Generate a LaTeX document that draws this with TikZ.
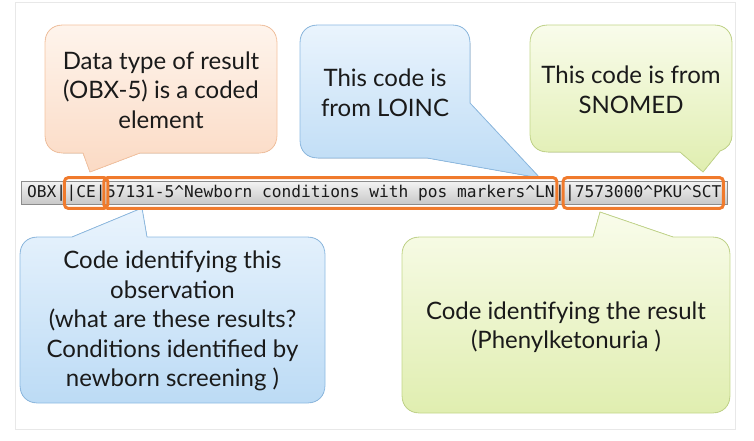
\documentclass[tikz,border=0pt]{standalone}
\usepackage{fontspec}
\newfontfamily\balloonfont{Lato}
\newfontfamily\codefont{DejaVu Sans Mono}
\usepackage{tikz}
\usetikzlibrary{positioning,fit,backgrounds}
\definecolor{ink}{HTML}{1A1A1A}
\definecolor{peachtop}{HTML}{FEF4EC}
\definecolor{peachbot}{HTML}{FBDAC4}
\definecolor{peachline}{HTML}{F5C3A0}
\definecolor{bluetop}{HTML}{EAF4FD}
\definecolor{bluebot}{HTML}{BCDBF5}
\definecolor{blueline}{HTML}{8DBAE2}
\definecolor{greentop}{HTML}{F9FCEB}
\definecolor{greenbot}{HTML}{E0EEB0}
\definecolor{greenline}{HTML}{C3D68A}
\definecolor{barline}{HTML}{8C8C8C}
\definecolor{hilite}{HTML}{F07A2C}

\begin{document}
\begin{tikzpicture}[x=1pt, y=-1pt,
    note/.style={align=center, inner sep=0pt, text=ink,
        font=\balloonfont\fontsize{24}{29.5}\selectfont},
    code/.style={inner sep=0pt, text height=12pt, text depth=3.5pt, text=ink,
        font=\codefont\fontsize{16.2}{18}\selectfont},
    balloon/.style 2 args={draw=#2, line width=0.8pt, line join=round,
        path picture={\fill[#1] (path picture bounding box.south west) rectangle (path picture bounding box.north east);}},
    peach/.style={balloon={top color=peachtop, bottom color=peachbot}{peachline}},
    sky/.style={balloon={top color=bluetop, bottom color=bluebot}{blueline}},
    lime/.style={balloon={top color=greentop, bottom color=greenbot}{greenline}},
    codebar/.style={top color=white!95!black, bottom color=white!78!black, draw=barline, line width=0.8pt,
        inner xsep=6pt, inner ysep=3.5pt},
    hibox/.style={draw=hilite, line width=3pt, rounded corners=4pt, inner xsep=2pt, inner ysep=7.5pt}]

    \useasboundingbox (0,0) rectangle (754,441);
    \draw[black!9] (15,2) rectangle (735,429);

    \node[code, anchor=west] (obx) at (27,193) {OBX|};
    \node[code, right=0pt of obx] (ce) {|CE|};
    \node[code, right=0pt of ce] (obsid) {57131-5\textasciicircum Newborn conditions with pos markers\textasciicircum LN};
    \node[code, right=0pt of obsid] (sep) {|};
    \node[code, right=0pt of sep] (pku) {|7573000\textasciicircum PKU\textasciicircum SCT};

    \node[note] (dtype) at (161,90) {Data type of result\\(OBX-5) is a coded\\element};
    \node[note] (loinc) at (385,93) {This code is\\from LOINC};
    \node[note] (snomed) at (631,90) {This code is from\\SNOMED};
    \node[note] (obs) at (172.5,321) {Code identifying this\\observation\\(what are these results?\\Conditions identified by\\newborn screening )};
    \node[note] (result) at (566,327) {Code identifying the result\\(Phenylketonuria )};

    \coordinate (t1) at (90,172);
    \coordinate (t2) at (540,178);
    \coordinate (t3) at (703,172);
    \coordinate (t4) at (142,208);
    \coordinate (t5) at (600,212);

    \begin{scope}[on background layer]
        \node[codebar, fit=(obx)(pku)] (bar) {};

        \path[peach] (t1) -- (83,153) -- (63,153) .. controls (52,153) and (45,146) .. (45,135)
            -- (45,43) .. controls (45,32) and (52,25) .. (63,25)
            -- (259,25) .. controls (270,25) and (277,32) .. (277,43)
            -- (277,135) .. controls (277,146) and (270,153) .. (259,153) -- (140,153) -- cycle;
        \path[sky] (t2) -- (427,158) -- (318,158) .. controls (307,158) and (300,151) .. (300,140)
            -- (300,43) .. controls (300,32) and (307,25) .. (318,25)
            -- (452,25) .. controls (463,25) and (470,32) .. (470,43) -- (470,103) -- cycle;
        \path[lime] (t3) -- (680,152) -- (548,152) .. controls (537,152) and (530,145) .. (530,134)
            -- (530,43) .. controls (530,32) and (537,25) .. (548,25)
            -- (714,25) .. controls (725,25) and (732,32) .. (732,43)
            -- (732,134) .. controls (732,143) and (728,148) .. (720,151) -- cycle;
        \path[sky] (t4) -- (147,237) -- (307,237) .. controls (318,237) and (325,244) .. (325,255)
            -- (325,385) .. controls (325,396) and (318,403) .. (307,403)
            -- (38,403) .. controls (27,403) and (20,396) .. (20,385)
            -- (20,255) .. controls (20,244) and (27,237) .. (38,237) -- (72,237) -- cycle;
        \path[lime] (t5) -- (673,237) -- (712,237) .. controls (723,237) and (730,244) .. (730,255)
            -- (730,395) .. controls (730,406) and (723,413) .. (712,413)
            -- (420,413) .. controls (409,413) and (402,406) .. (402,395)
            -- (402,255) .. controls (402,244) and (409,237) .. (420,237) -- (593,237) -- cycle;
    \end{scope}

    \node[hibox, fit=(ce)] (markce) {};
    \node[hibox, fit=(obsid)] (markobs) {};
    \node[hibox, fit=(pku)] (markpku) {};

\end{tikzpicture}
\end{document}
